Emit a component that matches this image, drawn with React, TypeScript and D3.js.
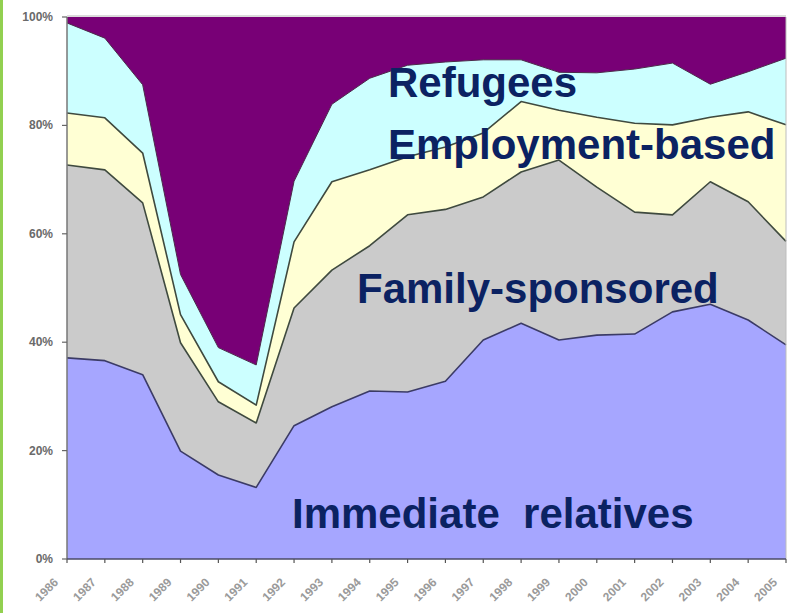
import React from "react";
import * as d3 from "d3";

const years = ["1986","1987","1988","1989","1990","1991","1992","1993","1994","1995","1996","1997","1998","1999","2000","2001","2002","2003","2004","2005"];
const immediateRelatives = [37.1,36.6,34.0,19.9,15.5,13.2,24.6,28.1,31.0,30.8,32.8,40.4,43.5,40.4,41.3,41.5,45.6,47.0,44.1,39.5];
const familySponsored = [35.6,35.2,31.7,20.0,13.5,11.9,21.7,25.2,26.8,32.7,31.7,26.4,27.9,33.2,27.3,22.5,17.9,22.6,21.8,19.1];
const employmentBased = [9.6,9.6,9.2,5.2,3.7,3.3,12.2,16.3,14.0,10.7,11.5,11.8,13.0,9.2,12.9,16.4,16.6,11.9,16.6,21.5];
const refugees = [16.6,14.7,12.6,7.4,6.3,7.4,11.2,14.3,16.9,16.9,15.7,13.5,7.7,7.0,8.2,10.0,11.4,6.1,7.4,12.3];
const other = [1.1,3.9,12.5,47.5,61.0,64.2,30.3,16.1,11.3,8.9,8.3,7.9,7.9,10.2,10.3,9.6,8.5,12.4,10.1,7.6];
const yTicks = [0, 20, 40, 60, 80, 100];

const seriesKeys = ["ir", "fs", "eb", "ref", "oth"];
const fills = ["#a6a6ff", "#cbcbcb", "#ffffd4", "#ccffff", "#780076"];
const strokes = ["#3b3b66", "#3f4a3f", "#3f4a3f", "#4a2a4a", "none"];
const labels = [
  { text: "Immediate  relatives", x: 292, y: 528 },
  { text: "Family-sponsored", x: 357, y: 303 },
  { text: "Employment-based", x: 388, y: 159 },
  { text: "Refugees", x: 388, y: 97 },
];

export default function App() {
  const W = 788, H = 613;
  const left = 67, right = 786, top = 17, bottom = 559;
  const x = d3.scalePoint<string>().domain(years).range([left, right]);
  const y = d3.scaleLinear().domain([0, 100]).range([bottom, top]);

  const rows = years.map((yr, i) => ({
    year: yr,
    ir: immediateRelatives[i],
    fs: familySponsored[i],
    eb: employmentBased[i],
    ref: refugees[i],
    oth: other[i],
  }));
  const stacked = d3.stack<any>().keys(seriesKeys).offset(d3.stackOffsetExpand)(rows);

  const area = d3.area<any>()
    .x((d) => x(d.data.year) as number)
    .y0((d) => y(d[0] * 100))
    .y1((d) => y(d[1] * 100));
  const line = d3.line<any>()
    .x((d) => x(d.data.year) as number)
    .y((d) => y(d[1] * 100));

  const font = "'Liberation Sans', Arial, sans-serif";

  return (
    <svg width={W} height={H} style={{ position: "absolute", left: 0, top: 0, background: "#fff" }}>
      <rect x={0} y={0} width={3} height={H} fill="#92d050" />
      {stacked.map((s, i) => (
        <path key={"a" + i} d={area(s) as string} fill={fills[i]} stroke="none" />
      ))}
      {stacked.map((s, i) =>
        strokes[i] === "none" ? null : (
          <path key={"l" + i} d={line(s) as string} fill="none" stroke={strokes[i]} strokeWidth={i === 3 ? 1 : 1.6} strokeLinejoin="round" />
        )
      )}
      {/* plot border */}
      <line x1={left} x2={right} y1={top - 1} y2={top - 1} stroke="#cfcfcf" strokeWidth={1.5} />
      <line x1={right} x2={right} y1={top} y2={bottom} stroke="#bdbdbd" strokeWidth={1} />
      {/* axes */}
      <line x1={left} x2={left} y1={top} y2={bottom} stroke="#777" strokeWidth={1.5} />
      <line x1={left} x2={right} y1={bottom} y2={bottom} stroke="#4a4a66" strokeWidth={1.5} />
      {yTicks.map((t) => (
        <g key={"yt" + t}>
          <line x1={left - 5} x2={left} y1={y(t)} y2={y(t)} stroke="#666" strokeWidth={1.2} />
          <text x={53} y={y(t) + 4} textAnchor="end" fontFamily={font} fontSize={12} fontWeight="bold" fill="#6a6a6a">
            {t + "%"}
          </text>
        </g>
      ))}
      {years.map((yr) => {
        const xx = x(yr) as number;
        return (
          <g key={"xt" + yr}>
            <line x1={xx} x2={xx} y1={bottom} y2={bottom + 4} stroke="#555" strokeWidth={1.2} />
            <text transform={`translate(${xx - 8},${bottom + 24}) rotate(-45)`} textAnchor="end" fontFamily={font} fontSize={12} fontWeight="bold" fill="#9a9a9a">
              {yr}
            </text>
          </g>
        );
      })}
      {labels.map((l) => (
        <text key={l.text} x={l.x} y={l.y} fontFamily={font} fontSize={42} fontWeight="bold" fill="#0b2262" style={{ whiteSpace: "pre" }}>
          {l.text}
        </text>
      ))}
    </svg>
  );
}
